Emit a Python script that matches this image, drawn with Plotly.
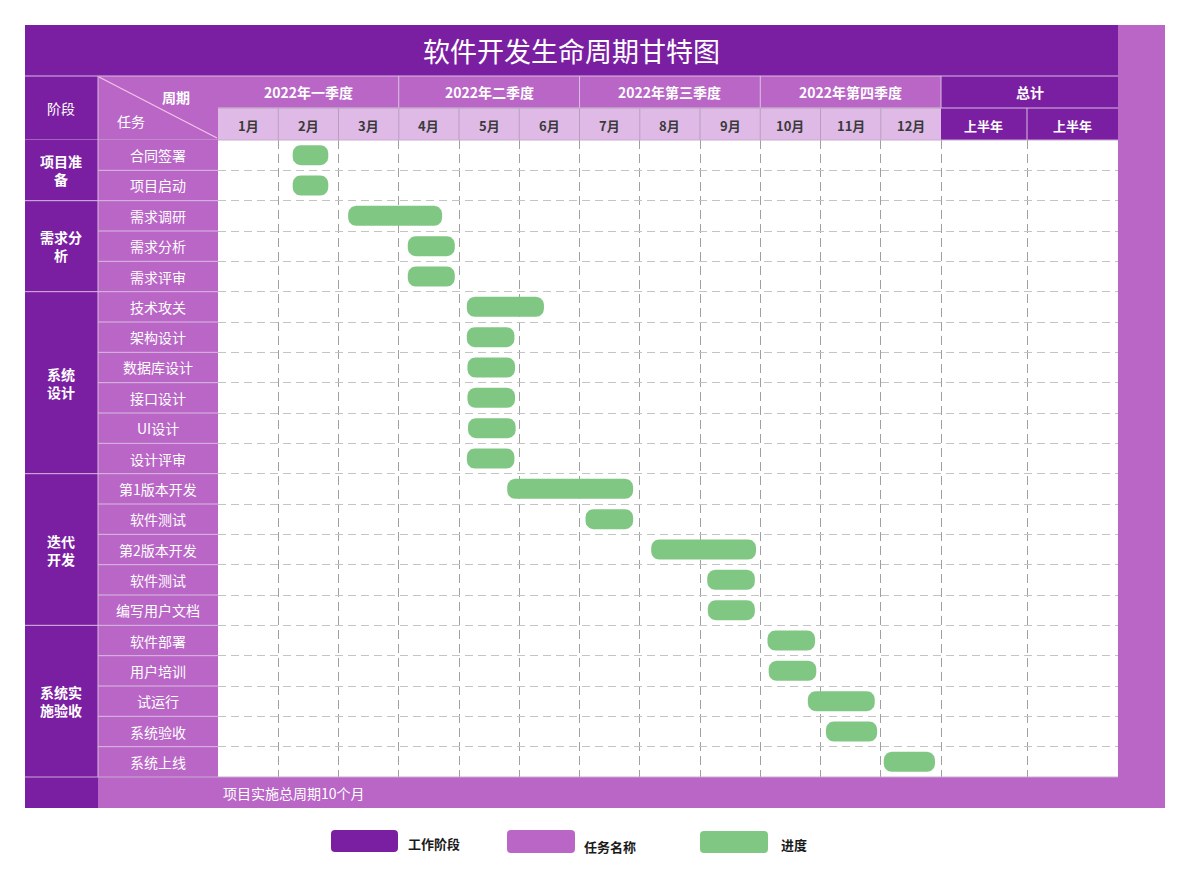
import math
import plotly.graph_objects as go

# ---------------- data ----------------
chart_title = "软件开发生命周期甘特图"
stage_header = "阶段"
corner_top = "周期"
corner_bottom = "任务"
quarter_labels = ["2022年一季度", "2022年二季度", "2022年第三季度", "2022年第四季度"]
month_labels = ["1月", "2月", "3月", "4月", "5月", "6月",
                "7月", "8月", "9月", "10月", "11月", "12月"]
total_header = "总计"
total_labels = ["上半年", "上半年"]
stage_labels = ["项目准<br>备", "需求分<br>析", "系统<br>设计", "迭代<br>开发", "系统实<br>施验收"]
stage_task_counts = [2, 3, 6, 5, 5]
task_labels = ["合同签署", "项目启动", "需求调研", "需求分析", "需求评审",
               "技术攻关", "架构设计", "数据库设计", "接口设计", "UI设计", "设计评审",
               "第1版本开发", "软件测试", "第2版本开发", "软件测试", "编写用户文档",
               "软件部署", "用户培训", "试运行", "系统验收", "系统上线"]
# start / end positions in months (0 = start of January)
task_start = [1.24, 1.24, 2.16, 3.15, 3.15,
              4.13, 4.13, 4.14, 4.14, 4.15, 4.13,
              4.80, 6.10, 7.19, 8.12, 8.13,
              9.12, 9.14, 9.79, 10.09, 11.05]
task_end = [1.83, 1.83, 3.72, 3.93, 3.93,
            5.41, 4.92, 4.93, 4.93, 4.94, 4.92,
            6.89, 6.89, 8.93, 8.91, 8.91,
            9.91, 9.93, 10.90, 10.94, 11.90]
footer_note = "项目实施总周期10个月"
legend_labels = ["工作阶段", "任务名称", "进度"]

# ---------------- style / geometry ----------------
W, H = 1190, 889
FONT = "Noto Sans CJK SC, Microsoft YaHei, sans-serif"
DARK = "#7B1FA2"
LIGHT = "#B966C7"
LAV = "#DFBAE7"
GREEN = "#81C784"
SEP = "#D9BCE0"
MONTH_SEP = "#B89DBF"

X_L, X_STAGE, X_TASK, X_GRID_R, X_STRIP_R = 25, 98, 218, 1118, 1165
Y_T, Y_TITLE, Y_H1, Y_H2, Y_BODY, Y_FOOT = 25, 76, 108, 140, 777, 808
X_MONTH_END = 941
X_TOTAL_MID = 1027
MONTH_PX = (X_MONTH_END - X_TASK) / len(month_labels)
N = len(task_labels)
ROW_PX = (Y_BODY - Y_H2) / N
BAR_H_PX = 20
BAR_R_PX = 8


def px(x):
    return x / W


def py(y):
    return 1 - y / H


shapes = []
annotations = []


def rect(x0, y0, x1, y1, color):
    shapes.append(dict(type="rect", xref="paper", yref="paper",
                       x0=px(x0), x1=px(x1), y0=py(y1), y1=py(y0),
                       fillcolor=color, line=dict(width=0), layer="above"))


def line(x0, y0, x1, y1, color, width=1):
    shapes.append(dict(type="line", xref="paper", yref="paper",
                       x0=px(x0), x1=px(x1), y0=py(y0), y1=py(y1),
                       line=dict(color=color, width=width), layer="above"))


def text(x, y, s, size=14, color="white", bold=False, xanchor="center"):
    if bold:
        s = "<b>" + s + "</b>"
    annotations.append(dict(xref="paper", yref="paper", x=px(x), y=py(y), text=s,
                            showarrow=False, xanchor=xanchor, yanchor="middle",
                            font=dict(family=FONT, size=size, color=color)))


def rounded_paper(x0, y0, x1, y1, r, color):
    pts = lambda x, y: f"{px(x):.5f},{py(y):.5f}"
    path = ("M" + pts(x0 + r, y0) + " L" + pts(x1 - r, y0) +
            " Q" + pts(x1, y0) + " " + pts(x1, y0 + r) +
            " L" + pts(x1, y1 - r) +
            " Q" + pts(x1, y1) + " " + pts(x1 - r, y1) +
            " L" + pts(x0 + r, y1) +
            " Q" + pts(x0, y1) + " " + pts(x0, y1 - r) +
            " L" + pts(x0, y0 + r) +
            " Q" + pts(x0, y0) + " " + pts(x0 + r, y0) + " Z")
    shapes.append(dict(type="path", xref="paper", yref="paper", path=path,
                       fillcolor=color, line=dict(width=0), layer="above"))


def month_x(m):
    return X_TASK + m * MONTH_PX


# title bar + right strip
rect(X_L, Y_T, X_GRID_R, Y_TITLE, DARK)
rect(X_GRID_R, Y_T, X_STRIP_R, Y_FOOT, LIGHT)
text((X_L + X_GRID_R) / 2, (Y_T + Y_TITLE) / 2, chart_title, size=27)

# header: stage / corner cells
rect(X_L, Y_TITLE, X_STAGE, Y_H2, DARK)
text((X_L + X_STAGE) / 2, (Y_TITLE + Y_H2) / 2, stage_header, size=14)
rect(X_STAGE, Y_TITLE, X_TASK, Y_H2, LIGHT)
line(X_STAGE + 1, Y_TITLE + 1, X_TASK - 1, Y_H2 - 2, "#F6C3E6", 1.2)
text(176, 97, corner_top, size=14, bold=True)
text(131, 121, corner_bottom, size=14)

# quarters
for q, lab in enumerate(quarter_labels):
    x0, x1 = month_x(q * 3), month_x(q * 3 + 3)
    rect(x0, Y_TITLE, x1, Y_H1, LIGHT)
    text((x0 + x1) / 2, (Y_TITLE + Y_H1) / 2, lab, size=14, bold=True)
# months
for i, lab in enumerate(month_labels):
    x0, x1 = month_x(i), month_x(i + 1)
    rect(x0, Y_H1, x1, Y_H2, LAV)
    text((x0 + x1) / 2, (Y_H1 + Y_H2) / 2 + 1, lab, size=13, color="#3A3A3A", bold=True)
for i in range(1, len(month_labels)):
    line(month_x(i), Y_H1, month_x(i), Y_H2, MONTH_SEP)
# totals
rect(X_MONTH_END, Y_TITLE, X_GRID_R, Y_H2, DARK)
text((X_MONTH_END + X_GRID_R) / 2, (Y_TITLE + Y_H1) / 2, total_header, size=14, bold=True)
tx = [X_MONTH_END, X_TOTAL_MID, X_GRID_R]
for i, lab in enumerate(total_labels):
    text((tx[i] + tx[i + 1]) / 2, (Y_H1 + Y_H2) / 2 + 1, lab, size=13, bold=True)
line(X_TOTAL_MID, Y_H1, X_TOTAL_MID, Y_H2, SEP)

# header separators
line(X_L, Y_TITLE, X_GRID_R, Y_TITLE, SEP)
line(X_TASK, Y_H1, X_GRID_R, Y_H1, SEP)
for q in range(1, len(quarter_labels) + 1):
    line(month_x(q * 3), Y_TITLE, month_x(q * 3), Y_H1, SEP)
line(X_TASK, Y_H1, X_MONTH_END, Y_H1, MONTH_SEP)
line(X_L, Y_H2, X_GRID_R, Y_H2, "#C8AAD0")

# body: stage and task columns
rect(X_L, Y_H2, X_STAGE, Y_BODY, DARK)
rect(X_STAGE, Y_H2, X_TASK, Y_BODY, LIGHT)
for i, lab in enumerate(task_labels):
    yc = Y_H2 + (i + 0.5) * ROW_PX
    text((X_STAGE + X_TASK) / 2, yc, lab, size=14)
    if i > 0:
        line(X_STAGE, Y_H2 + i * ROW_PX, X_TASK, Y_H2 + i * ROW_PX, SEP)
row0 = 0
for k, lab in enumerate(stage_labels):
    cnt = stage_task_counts[k]
    y0 = Y_H2 + row0 * ROW_PX
    y1 = Y_H2 + (row0 + cnt) * ROW_PX
    text((X_L + X_STAGE) / 2, (y0 + y1) / 2, lab, size=14, bold=True)
    if k > 0:
        line(X_L, y0, X_STAGE, y0, SEP)
    row0 += cnt
line(X_STAGE, Y_TITLE, X_STAGE, Y_FOOT, SEP)

# footer
rect(X_L, Y_BODY, X_STAGE, Y_FOOT, DARK)
rect(X_STAGE, Y_BODY, X_GRID_R, Y_FOOT, LIGHT)
line(X_L, Y_BODY, X_GRID_R, Y_BODY, "#C8AAD0")
text(X_TASK + 3, (Y_BODY + Y_FOOT) / 2, footer_note, size=14, xanchor="left")

# legend
legend_colors = [DARK, LIGHT, GREEN]
legend_boxes = [(331, 830, 398, 852), (507, 830, 575, 853), (700, 831, 768, 853)]
legend_text_pos = [(406, 843), (582, 846), (779, 844)]
for lab, col, box, tp in zip(legend_labels, legend_colors, legend_boxes, legend_text_pos):
    rounded_paper(*box, 4, col)
    text(tp[0], tp[1], lab, size=13, color="#1A1A1A", bold=True, xanchor="left")

# ---------------- gantt bars (data coordinates) ----------------
fig = go.Figure()
rx = BAR_R_PX / MONTH_PX
ry = BAR_R_PX / ROW_PX
hh = BAR_H_PX / 2 / ROW_PX
for i, (lab, s, e) in enumerate(zip(task_labels, task_start, task_end)):
    yc = i + 0.5
    corners = [(e - rx, yc - hh + ry, -90), (e - rx, yc + hh - ry, 0),
               (s + rx, yc + hh - ry, 90), (s + rx, yc - hh + ry, 180)]
    xs, ys = [], []
    for cx, cy, a0 in corners:
        for k in range(9):
            a = math.radians(a0 + 90 * k / 8)
            xs.append(cx + rx * math.cos(a))
            ys.append(cy + ry * math.sin(a))
    xs.append(xs[0])
    ys.append(ys[0])
    fig.add_trace(go.Scatter(x=xs, y=ys, mode="lines", fill="toself",
                             fillcolor=GREEN, line=dict(width=0, color=GREEN),
                             hoverinfo="text", hoveron="fills",
                             text=f"{lab}: {s:.2f} – {e:.2f}", showlegend=False))

x_max = (X_GRID_R - X_TASK) / MONTH_PX
x_total_mid = (X_TOTAL_MID - X_TASK) / MONTH_PX

fig.update_layout(
    width=W, height=H,
    margin=dict(l=0, r=0, t=0, b=0),
    paper_bgcolor="white", plot_bgcolor="white",
    showlegend=False,
    shapes=shapes, annotations=annotations,
    xaxis=dict(domain=[px(X_TASK), px(X_GRID_R)], range=[0, x_max],
               tickvals=list(range(1, len(month_labels) + 1)) + [x_total_mid],
               showticklabels=False, ticks="", showgrid=True, gridcolor="#A0A0A0",
               gridwidth=1, griddash="9px,5px", zeroline=False, showline=False,
               fixedrange=True),
    yaxis=dict(domain=[py(Y_BODY), py(Y_H2)], range=[N, 0],
               tickvals=list(range(1, N)), showticklabels=False, ticks="",
               showgrid=True, gridcolor="#C4C4C4", gridwidth=1, griddash="8px,5px",
               zeroline=False, showline=False, fixedrange=True),
)

fig.write_html("out.html", config={"displayModeBar": False},
               post_script="document.body.style.margin='0';document.body.style.overflow='hidden';")
